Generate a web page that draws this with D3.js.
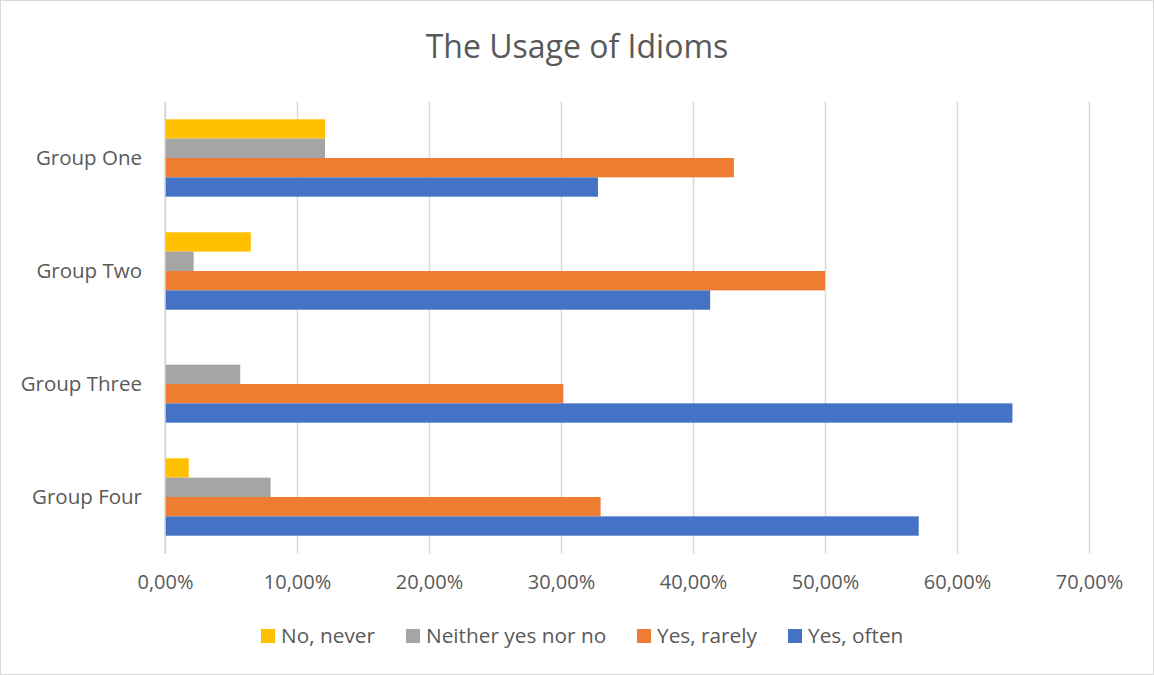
<!DOCTYPE html>
<html><head><meta charset="utf-8">
<script src="https://cdn.jsdelivr.net/npm/d3@7"></script>
<style>body{margin:0;background:#fff}svg{display:block}text{font-family:"Open Sans",sans-serif;fill:#595959}</style>
</head><body><svg id="c" width="1154" height="675"></svg>
<script>
const categories = ["Group One","Group Two","Group Three","Group Four"];
const seriesNames = ["No, never","Neither yes nor no","Yes, rarely","Yes, often"];
const noNever = [0.1212, 0.0650, 0.0, 0.0180];
const neither = [0.1212, 0.0217, 0.0570, 0.0800];
const yesRarely = [0.4310, 0.5000, 0.3018, 0.3300];
const yesOften = [0.3280, 0.4130, 0.6420, 0.5710];
const xTicks = [0,0.1,0.2,0.3,0.4,0.5,0.6,0.7];
const colors = ["#FFC000","#A5A5A5","#ED7D31","#4472C4"];
const seriesVals = [noNever, neither, yesRarely, yesOften];

const svg = d3.select("#c");
svg.append("rect").attr("x",0.5).attr("y",0.5).attr("width",1153).attr("height",674)
  .attr("fill","#fff").attr("stroke","#d9d9d9");

svg.append("text").attr("x",577).attr("y",58).attr("text-anchor","middle")
  .style("font-size","32px").text("The Usage of Idioms");

const x = d3.scaleLinear().domain([0,0.7]).range([165,1089]);
const y = d3.scaleBand().domain(categories).range([101.5,553.5]).paddingInner(0.315).paddingOuter(0.1575);
const ys = d3.scaleBand().domain(seriesNames).range([0,y.bandwidth()]);

const fmt = v => d3.format(".2f")(v*100).replace(".",",")+"%";
const xAxis = d3.axisBottom(x).tickValues(xTicks).tickFormat(fmt).tickSize(-(553.5-101.5)).tickPadding(21);
const gx = svg.append("g").attr("transform","translate(0,553.5)").call(xAxis);
gx.select(".domain").remove();
gx.selectAll("line").attr("stroke","#d9d9d9").attr("stroke-width",1.5);
gx.selectAll("text").style("font-size","20px").attr("fill","#595959").style("font-family","'Open Sans',sans-serif");

const yAxis = d3.axisLeft(y).tickSize(0).tickPadding(23);
const gy = svg.append("g").attr("transform","translate(165,0)").call(yAxis);
gy.select(".domain").remove();
gy.selectAll("text").style("font-size","20.5px").attr("fill","#595959").style("font-family","'Open Sans',sans-serif");

const groups = svg.append("g").selectAll("g").data(categories).join("g")
  .attr("transform",c=>`translate(0,${y(c)})`);
groups.selectAll("rect").data((c,i)=>seriesNames.map((s,j)=>({s,j,v:seriesVals[j][i]}))).join("rect")
  .attr("x",x(0)).attr("y",d=>ys(d.s)).attr("height",ys.bandwidth())
  .attr("width",d=>x(d.v)-x(0)).attr("fill",d=>colors[d.j]);

svg.append("line").attr("x1",x(0)).attr("x2",x(0)).attr("y1",101.5).attr("y2",553.5).attr("stroke","#d9d9d9").attr("stroke-width",1.5);

const legX = [261,406,637,788];
const lg = svg.append("g").selectAll("g").data(seriesNames).join("g")
  .attr("transform",(d,i)=>`translate(${legX[i]},636)`);
lg.append("rect").attr("x",0).attr("y",-7).attr("width",14).attr("height",14).attr("fill",(d,i)=>colors[i]);
lg.append("text").attr("x",20).attr("y",0).attr("dy","0.35em").style("font-size","20.8px").text(d=>d);
</script></body></html>
